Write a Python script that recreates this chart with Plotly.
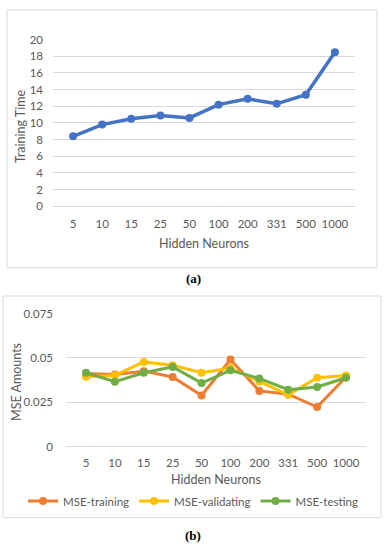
import plotly.graph_objects as go

categories = ["5", "10", "15", "25", "50", "100", "200", "331", "500", "1000"]
training_time = [8.4, 9.8, 10.5, 10.9, 10.6, 12.2, 12.9, 12.3, 13.4, 18.5]
mse_training = [0.0413, 0.0407, 0.0426, 0.0393, 0.0289, 0.0491, 0.0315, 0.0296, 0.0224, 0.0393]
mse_validating = [0.0394, 0.0402, 0.0478, 0.0459, 0.0417, 0.0444, 0.0368, 0.0293, 0.0389, 0.0402]
mse_testing = [0.0417, 0.0367, 0.0417, 0.0450, 0.0359, 0.0431, 0.0385, 0.0322, 0.0337, 0.0389]
y1_ticks = [0, 2, 4, 6, 8, 10, 12, 14, 16, 18, 20]
y2_ticks = [0, 0.025, 0.05, 0.075]
y2_ticktext = ["0", "0.025", "0.05", "0.075"]

W, H = 386, 550
FONT = "Lato"
TXT = "#595959"
GRID = "#d9d9d9"

def px(x):
    return x / W

def py(y):
    return 1 - y / H

fig = go.Figure()

fig.add_trace(go.Scatter(
    x=categories, y=training_time, mode="lines+markers",
    line=dict(color="#4472C4", width=3.5), marker=dict(size=8, color="#4472C4"),
    xaxis="x", yaxis="y", showlegend=False, name="Training Time"))

for name, vals, col in [("MSE-training", mse_training, "#ED7D31"),
                        ("MSE-validating", mse_validating, "#FFC000"),
                        ("MSE-testing", mse_testing, "#70AD47")]:
    fig.add_trace(go.Scatter(
        x=categories, y=vals, mode="lines+markers", name=name,
        line=dict(color=col, width=3), marker=dict(size=8, color=col),
        xaxis="x2", yaxis="y2", showlegend=True))

axis_font = dict(family=FONT, size=11.5, color=TXT)

def label(text, x, y, size=12.5, angle=0, family=FONT, color=TXT):
    return dict(text=text, x=px(x), y=py(y), xref="paper", yref="paper",
                xanchor="center", yanchor="middle", showarrow=False,
                textangle=angle, font=dict(family=family, size=size, color=color))

fig.update_layout(
    width=W, height=H,
    margin=dict(l=0, r=0, t=0, b=0),
    paper_bgcolor="white", plot_bgcolor="white",
    font=dict(family=FONT, color=TXT, size=11),
    xaxis=dict(domain=[px(53), px(355)], anchor="y", type="category",
               showgrid=False, showline=False, ticks="", tickfont=axis_font,
               ticklabelstandoff=9),
    yaxis=dict(domain=[py(204), py(33.5)], anchor="x", range=[0, 20],
               tickvals=y1_ticks, showgrid=True, gridcolor=GRID, gridwidth=1,
               zeroline=True, zerolinecolor=GRID, zerolinewidth=1,
               showline=False, ticks="", tickfont=axis_font, ticklabelstandoff=9),
    xaxis2=dict(domain=[px(66), px(366)], anchor="y2", type="category",
                showgrid=False, showline=False, ticks="", tickfont=axis_font,
                ticklabelstandoff=8),
    yaxis2=dict(domain=[py(450.5), py(314)], anchor="x2", range=[0, 0.075],
                tickvals=y2_ticks, ticktext=y2_ticktext, showgrid=True,
                gridcolor=GRID, gridwidth=1, zeroline=True, zerolinecolor=GRID,
                zerolinewidth=1, showline=False, ticks="", tickfont=axis_font,
                ticklabelstandoff=12),
    legend=dict(orientation="h", x=0.5, xanchor="center", y=py(506), yanchor="middle",
                font=dict(family=FONT, size=11.5, color=TXT), bgcolor="rgba(0,0,0,0)",
                itemwidth=30, tracegroupgap=0),
    shapes=[
        dict(type="rect", xref="paper", yref="paper", x0=px(7), x1=px(377),
             y0=py(267), y1=py(3), line=dict(color=GRID, width=1)),
        dict(type="rect", xref="paper", yref="paper", x0=px(3), x1=px(381),
             y0=py(523), y1=py(296), line=dict(color=GRID, width=1)),
    ],
    annotations=[
        label("Hidden Neurons", 204, 242),
        label("Training Time", 20, 122, angle=-90),
        label("Hidden Neurons", 216, 484),
        label("MSE Amounts", 17, 384, angle=-90),
        label("<b>(a)</b>", 193, 278, size=13, family="Liberation Serif", color="#000000"),
        label("<b>(b)</b>", 193, 541, size=13, family="Liberation Serif", color="#000000"),
    ],
)

fig.write_html("out.html", config={"displayModeBar": False},
               post_script="document.body.style.margin='0';document.body.style.overflow='hidden';")
